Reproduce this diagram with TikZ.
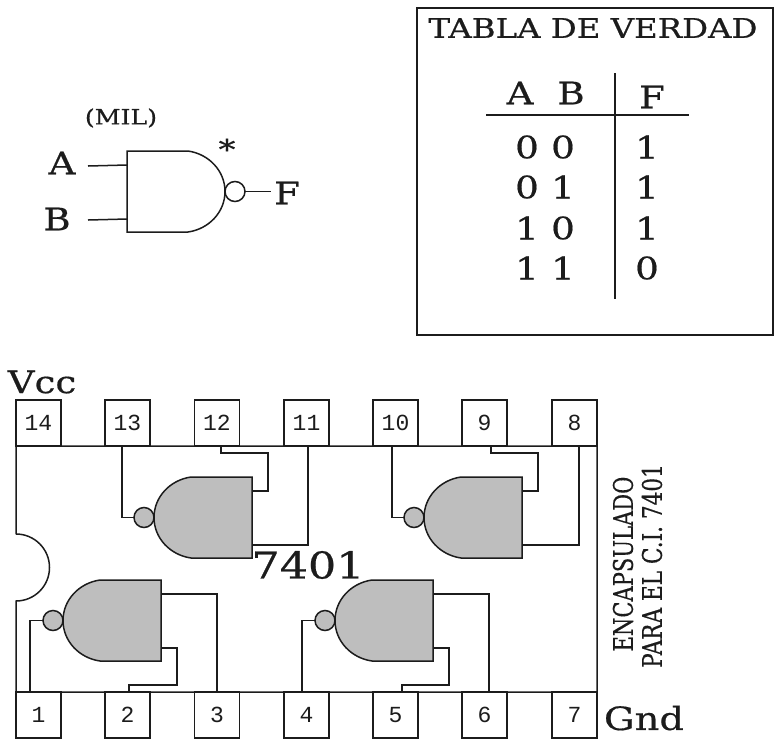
\documentclass[tikz,border=0pt]{standalone}
\usepackage{fontspec}
\setmainfont[FakeBold = 0.5]{DejaVu Serif}
\setmonofont{Liberation Mono}
\usetikzlibrary{positioning}

\tikzset{
  pics/nandgate/.style = {
    code = {
      \draw[fill = #1] (0, 0) -- (-61, 0) .. controls (-82, 3) and (-98, 20) .. (-98, 40.5)
        .. controls (-98, 61) and (-82, 78) .. (-61, 81) -- (0, 81) -- cycle;
      \draw node[bubble, fill = #1] (-bubble) at (-108, 40.5) {};
      \coordinate (-in1) at (0, 14);
      \coordinate (-in2) at (0, 68);
    }
  }
}

\begin{document}
\begin{tikzpicture}[
  x = 1pt,
  y = -1pt,
  bubble/.style = {
    shape = circle,
    draw = ink,
    minimum size = 20pt,
    inner sep = 0pt,
    outer sep = 0pt,
  },
  pin/.style = {
    shape = rectangle,
    draw = ink,
    minimum width = 45pt,
    minimum height = 46pt,
    inner sep = 0pt,
    font = \fontsize{23}{23}\selectfont\ttfamily,
  },
  txt/.style = {
    inner sep = 0pt,
    transform shape,
    xscale = 1.2,
    text = ink,
    font = \fontsize{#1}{#1}\selectfont,
  },
  every path/.style = {
    line width = 1.5pt,
    color = ink,
  }
]
  \definecolor{ink}{HTML}{1C1C1C}
  \definecolor{gatefill}{HTML}{BEBEBE}
  \useasboundingbox (0, 0) rectangle (777, 740);

  % truth table
  \draw (417, 8) rectangle (773, 335);
  \draw node[txt = 27] (title) at (593, 28) {TABLA DE VERDAD};
  \draw node[txt = 31] (colA) at (520, 93) {A};
  \draw node[txt = 31] (colB) at (571, 93) {B};
  \draw node[txt = 31] (colF) at (652, 97) {F};
  \draw (486, 115) -- (689, 115);
  \draw (615, 73) -- (615, 299);
  \foreach \row/\a/\b/\f/\y in {1/0/0/1/147, 2/0/1/1/187, 3/1/0/1/228, 4/1/1/0/268} {
    \draw node[txt = 31] (a\row) at (527, \y) {\a};
    \draw node[txt = 31] (b\row) at (563, \y) {\b};
    \draw node[txt = 31] (f\row) at (647, \y) {\f};
  }

  % symbol
  \pic (g0) [xscale = -1] at (127, 151) {nandgate = white};
  \draw node[txt = 21] (mil) at (121, 118) {(MIL)};
  \draw node[txt = 31] (inA) at (62, 163) {A};
  \draw node[txt = 31] (inB) at (57, 219) {B};
  \draw node[txt = 31] (outF) at (287, 193) {F};
  \draw node[txt = 28] (star) at (227, 149) {*};
  \coordinate (stubA) at (88, 166);
  \coordinate (stubB) at (88, 220);
  \coordinate (stubF) at (271, 191.5);
  \draw (stubA) -- (g0-in1);
  \draw (stubB) -- (g0-in2);
  \draw (g0-bubble.east) -- (stubF);

  % package
  \foreach \n/\x/\dy in {14/38.5/-2, 13/127.5/-4, 12/217/-2, 11/306.5/-1, 10/395.5/1, 9/484.5/-3, 8/574.5/-3} {
    \draw node[pin] (p\n) at (\x, 423) {\raisebox{\dy pt}{\n}};
  }
  \foreach \n/\x/\dy in {1/38.5/1, 2/127.5/0, 3/217/-2, 4/306.5/-2, 5/395.5/-3, 6/484.5/-2, 7/574.5/-2} {
    \draw node[pin] (p\n) at (\x, 715) {\raisebox{\dy pt}{\n}};
  }
  \draw (16, 534) -- (16, 446) -- (597, 446) -- (597, 692) -- (16, 692) -- (16, 601)
    arc[start angle = -90, end angle = 90, radius = 33.5pt];

  \draw node[txt = 31] (vcc) at (42, 382) {Vcc};
  \draw node[txt = 32] (gnd) at (644, 718) {Gnd};
  \draw node[txt = 37] (part) at (308, 565) {7401};
  \draw node[rotate = 90, inner sep = 0pt, font = \fontsize{27}{27}\selectfont] (enc1) at (623, 564) {\scalebox{0.78}[1]{ENCAPSULADO}};
  \draw node[rotate = 90, inner sep = 0pt, font = \fontsize{27}{27}\selectfont] (enc2) at (652, 566) {\scalebox{0.8}[1]{PARA EL C.I. 7401}};

  % gates
  \pic (g1) at (252, 477) {nandgate = gatefill};
  \pic (g2) at (522, 477) {nandgate = gatefill};
  \pic (g3) at (161, 580) {nandgate = gatefill};
  \pic (g4) at (433, 580) {nandgate = gatefill};

  \draw (g1-bubble.west) -| ([xshift = -5.5pt]p13.south);
  \draw (g1-in1) -- +(16, 0) |- (221, 453) -- ([xshift = 4pt]p12.south);
  \draw (g1-in2) -| ([xshift = 1.5pt]p11.south);

  \draw (g2-bubble.west) -| ([xshift = -3.5pt]p10.south);
  \draw (g2-in1) -- +(16, 0) |- (491, 453) -- ([xshift = 6.5pt]p9.south);
  \draw (g2-in2) -| ([xshift = 4.5pt]p8.south);

  \draw (g3-bubble.west) -| ([xshift = -8.5pt]p1.north);
  \draw (g3-in2) -- +(16, 0) |- (129, 685) -- ([xshift = 1.5pt]p2.north);
  \draw (g3-in1) -| (p3.north);

  \draw (g4-bubble.west) -| ([xshift = -4.5pt]p4.north);
  \draw (g4-in2) -- +(16, 0) |- (402, 685) -- ([xshift = 6.5pt]p5.north);
  \draw (g4-in1) -| ([xshift = 4.5pt]p6.north);
\end{tikzpicture}
\end{document}
